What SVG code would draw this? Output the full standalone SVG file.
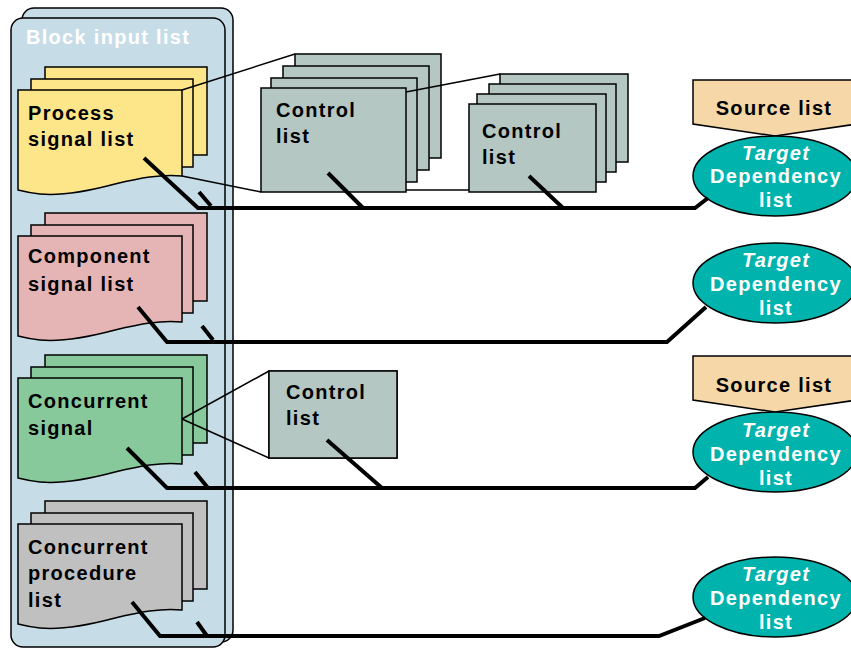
<svg xmlns="http://www.w3.org/2000/svg" width="851" height="652" viewBox="0 0 851 652">
<defs>
<style>
text{font-family:"Liberation Sans",Arial,sans-serif;font-weight:bold;font-size:20px;letter-spacing:1.3px}
.lbl{fill:#000}
.wt{fill:#fff}
.panel{fill:#c6dce7;stroke:#000;stroke-width:1.5}
.sheet{stroke:#000;stroke-width:1.5}
.y{fill:#fde58a}.p{fill:#e5b5b5}.g{fill:#88c99c}.gr{fill:#c0c0c0}
.ctl{fill:#b4c7c3;stroke:#000;stroke-width:1.5}
.src{fill:#f5d7a8;stroke:#000;stroke-width:1.5}
.tgt{fill:#00b3ad;stroke:#000;stroke-width:1.5}
.thick{fill:none;stroke:#000;stroke-width:4}
.thin{fill:none;stroke:#000;stroke-width:1.5}
</style>
<path id="doc" d="M18,0 H182 V86 C160,84 140,88 115,94 C85,102 60,106 40,104 C30,103 22,101 18,100 Z"/>
</defs>
<g id="block-input-list">
<rect class="panel" x="22" y="8" width="211" height="634" rx="12"/>
<rect class="panel" x="11" y="18" width="214" height="629" rx="12"/>
<text class="wt" x="26" y="44">Block input list</text>
</g>
<g id="process-signal-list" transform="translate(0,90)">
<rect class="sheet y" x="45" y="-23" width="162" height="88"/>
<rect class="sheet y" x="31" y="-11" width="162" height="88"/>
<use href="#doc" class="sheet y"/>
<text class="lbl" x="28" y="30">Process</text>
<text class="lbl" x="28" y="56">signal list</text>
</g>
<g id="component-signal-list" transform="translate(0,236)">
<rect class="sheet p" x="45" y="-23" width="162" height="88"/>
<rect class="sheet p" x="31" y="-11" width="162" height="88"/>
<use href="#doc" class="sheet p"/>
<text class="lbl" x="28" y="27">Component</text>
<text class="lbl" x="28" y="55">signal list</text>
</g>
<g id="concurrent-signal" transform="translate(0,378)">
<rect class="sheet g" x="45" y="-23" width="162" height="88"/>
<rect class="sheet g" x="31" y="-11" width="162" height="88"/>
<use href="#doc" class="sheet g"/>
<text class="lbl" x="28" y="30">Concurrent</text>
<text class="lbl" x="28" y="57">signal</text>
</g>
<g id="concurrent-procedure-list" transform="translate(0,524)">
<rect class="sheet gr" x="45" y="-23" width="162" height="88"/>
<rect class="sheet gr" x="31" y="-11" width="162" height="88"/>
<use href="#doc" class="sheet gr"/>
<text class="lbl" x="28" y="30">Concurrent</text>
<text class="lbl" x="28" y="56">procedure</text>
<text class="lbl" x="28" y="83">list</text>
</g>
<g id="control-list-1">
<rect class="ctl" x="295" y="54" width="146" height="104"/>
<rect class="ctl" x="283" y="66" width="146" height="104"/>
<rect class="ctl" x="271" y="78" width="146" height="104"/>
<rect class="ctl" x="261" y="88" width="145" height="104"/>
<text class="lbl" x="276" y="117">Control</text>
<text class="lbl" x="276" y="143">list</text>
</g>
<g id="control-list-2">
<rect class="ctl" x="500" y="74" width="128" height="88"/>
<rect class="ctl" x="489" y="84" width="127" height="88"/>
<rect class="ctl" x="477" y="94" width="129" height="88"/>
<rect class="ctl" x="469" y="104" width="127" height="88"/>
<text class="lbl" x="482" y="138">Control</text>
<text class="lbl" x="482" y="164">list</text>
</g>
<g id="control-list-3">
<rect class="ctl" x="269" y="371" width="128" height="87"/>
<rect class="ctl" x="269" y="371" width="128" height="87"/>
<text class="lbl" x="286" y="399">Control</text>
<text class="lbl" x="286" y="425">list</text>
</g>
<g id="source-list-1">
<polygon class="src" points="693,80 857,80 857,124 775,136 693,124"/>
<text class="lbl" x="774" y="115" text-anchor="middle">Source list</text>
</g>
<g id="source-list-2">
<polygon class="src" points="693,356 857,356 857,400 775,412 693,400"/>
<text class="lbl" x="774" y="392" text-anchor="middle">Source list</text>
</g>
<g id="target-1">
<ellipse class="tgt" cx="775" cy="176" rx="82" ry="40"/>
<text class="wt" x="776" y="160" text-anchor="middle" font-style="italic">Target</text>
<text class="wt" x="776" y="183" text-anchor="middle">Dependency</text>
<text class="wt" x="776" y="207" text-anchor="middle">list</text>
</g>
<g id="target-2">
<ellipse class="tgt" cx="775" cy="283" rx="82" ry="40"/>
<text class="wt" x="776" y="267" text-anchor="middle" font-style="italic">Target</text>
<text class="wt" x="776" y="291" text-anchor="middle">Dependency</text>
<text class="wt" x="776" y="315" text-anchor="middle">list</text>
</g>
<g id="target-3">
<ellipse class="tgt" cx="775" cy="452" rx="82" ry="40"/>
<text class="wt" x="776" y="437" text-anchor="middle" font-style="italic">Target</text>
<text class="wt" x="776" y="461" text-anchor="middle">Dependency</text>
<text class="wt" x="776" y="485" text-anchor="middle">list</text>
</g>
<g id="target-4">
<ellipse class="tgt" cx="775" cy="597" rx="82" ry="40"/>
<text class="wt" x="776" y="581" text-anchor="middle" font-style="italic">Target</text>
<text class="wt" x="776" y="605" text-anchor="middle">Dependency</text>
<text class="wt" x="776" y="629" text-anchor="middle">list</text>
</g>
<g id="connectors">
<line class="thin" x1="182" y1="90" x2="295" y2="54"/>
<line class="thin" x1="182" y1="176" x2="261" y2="192"/>
<line class="thin" x1="406" y1="92" x2="500" y2="74"/>
<line class="thin" x1="406" y1="190" x2="469" y2="190"/>
<line class="thin" x1="182" y1="419" x2="269" y2="371"/>
<line class="thin" x1="182" y1="419" x2="269" y2="458"/>
<polyline class="thick" points="144,158 198,208 695,208 708,198"/>
<line class="thick" x1="199" y1="192" x2="211" y2="206"/>
<line class="thick" x1="328" y1="173" x2="363" y2="208"/>
<line class="thick" x1="529" y1="176" x2="563" y2="208"/>
<polyline class="thick" points="138,307 167,342 667,342 706,307"/>
<line class="thick" x1="202" y1="326" x2="213" y2="340"/>
<polyline class="thick" points="127,448 167,488 695,488 708,477"/>
<line class="thick" x1="195" y1="472" x2="208" y2="488"/>
<line class="thick" x1="327" y1="440" x2="382" y2="488"/>
<polyline class="thick" points="132,602 160,636 659,636 705,618"/>
<line class="thick" x1="197" y1="622" x2="207" y2="636"/>
</g>
</svg>
